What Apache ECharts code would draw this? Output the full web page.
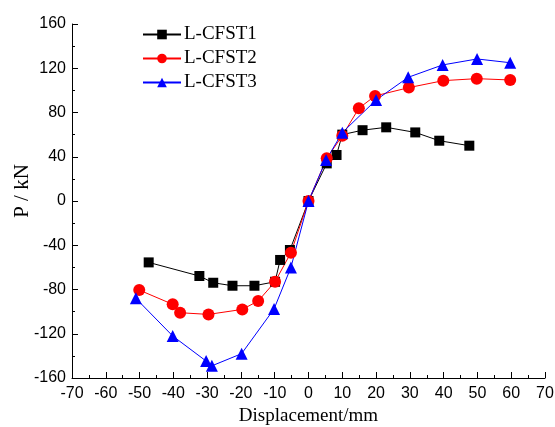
<!DOCTYPE html>
<html><head><meta charset="utf-8">
<script src="https://cdn.jsdelivr.net/npm/echarts@6/dist/echarts.min.js"></script>
<style>html,body{margin:0;padding:0;background:#fff}#c{width:555px;height:427px}</style>
</head><body><div id="c"></div>
<script>
const seriesNames = ['L-CFST1', 'L-CFST2', 'L-CFST3'];
const cfst1X = [-47.3, -32.3, -28.2, -22.5, -16.0, -9.9, -8.4, -5.5, 0, 5.4, 8.3, 10.0, 16.0, 23.0, 31.6, 38.7, 47.6];
const cfst1Y = [-55.5, -67.8, -73.9, -76.6, -76.6, -73.0, -53.3, -44.3, 0, 34.0, 41.6, 60.0, 64.0, 66.6, 62.0, 54.5, 50.0];
const cfst2X = [-50.1, -40.2, -38.0, -29.6, -19.6, -14.9, -9.9, -5.2, 0, 5.4, 10.0, 14.9, 19.7, 29.7, 39.9, 49.8, 59.7];
const cfst2Y = [-80.5, -93.4, -101.0, -102.5, -98.0, -90.4, -73.0, -46.7, 0, 38.6, 59.0, 83.8, 95.0, 102.5, 108.8, 110.6, 109.4];
const cfst3X = [-51.1, -40.2, -30.3, -28.6, -19.8, -10.2, -5.2, 0, 5.2, 10.0, 20.0, 29.5, 39.7, 49.9, 59.7];
const cfst3Y = [-88.0, -122.0, -144.7, -149.0, -138.0, -97.6, -60.0, 0, 37.0, 61.8, 91.3, 111.8, 123.0, 128.4, 125.0];
const xTitle = 'Displacement/mm';
const yTitle = 'P / kN';

const zip = (a, b) => a.map((v, i) => [v, b[i]]);
const colors = ['#000000', '#ff0000', '#0000ff'];
const symbols = ['rect', 'circle', 'triangle'];
const sizes = [10, 12, 12];
const datas = [zip(cfst1X, cfst1Y), zip(cfst2X, cfst2Y), zip(cfst3X, cfst3Y)];

const axisCommon = {
  axisLine: { show: true, onZero: false, lineStyle: { color: '#000', width: 1 } },
  axisTick: { show: true, inside: true, length: 6, lineStyle: { color: '#000' } },
  minorTick: { show: true, splitNumber: 2, length: 3, lineStyle: { color: '#000' } },
  splitLine: { show: false },
  axisLabel: { color: '#000', fontFamily: 'Liberation Sans', fontSize: 16 },
  nameTextStyle: { color: '#000', fontFamily: 'Liberation Serif', fontSize: 19 }
};

const chart = echarts.init(document.getElementById('c'), null, { renderer: 'canvas' });
chart.setOption({
  animation: false,
  backgroundColor: '#fff',
  grid: { left: 72, right: 10, top: 24, bottom: 49, containLabel: false, outerBoundsMode: 'none' },
  legend: {
    orient: 'vertical', left: 137, top: 20, itemWidth: 38, itemHeight: 12, itemGap: 5,
    textStyle: { fontFamily: 'Liberation Serif', fontSize: 19, color: '#000', padding: [0, 0, 0, -2] },
    data: seriesNames
  },
  xAxis: Object.assign({}, axisCommon, {
    type: 'value', min: -70, max: 70, interval: 10,
    name: xTitle, nameLocation: 'middle', nameGap: 29,
    axisLabel: Object.assign({}, axisCommon.axisLabel, { margin: 8 })
  }),
  yAxis: Object.assign({}, axisCommon, {
    type: 'value', min: -160, max: 160, interval: 40,
    name: yTitle, nameLocation: 'middle', nameGap: 39, nameMoveOverlap: false,
    nameTextStyle: Object.assign({}, axisCommon.nameTextStyle, { fontSize: 21, padding: [0, 0, 0, 20] }),
    axisLabel: Object.assign({}, axisCommon.axisLabel, { margin: 6 })
  }),
  series: seriesNames.map((n, i) => ({
    name: n, type: 'line', data: datas[i],
    symbol: symbols[i], symbolSize: sizes[i],
    itemStyle: { color: colors[i] },
    lineStyle: { color: colors[i], width: 1 }
  }))
});
</script></body></html>
